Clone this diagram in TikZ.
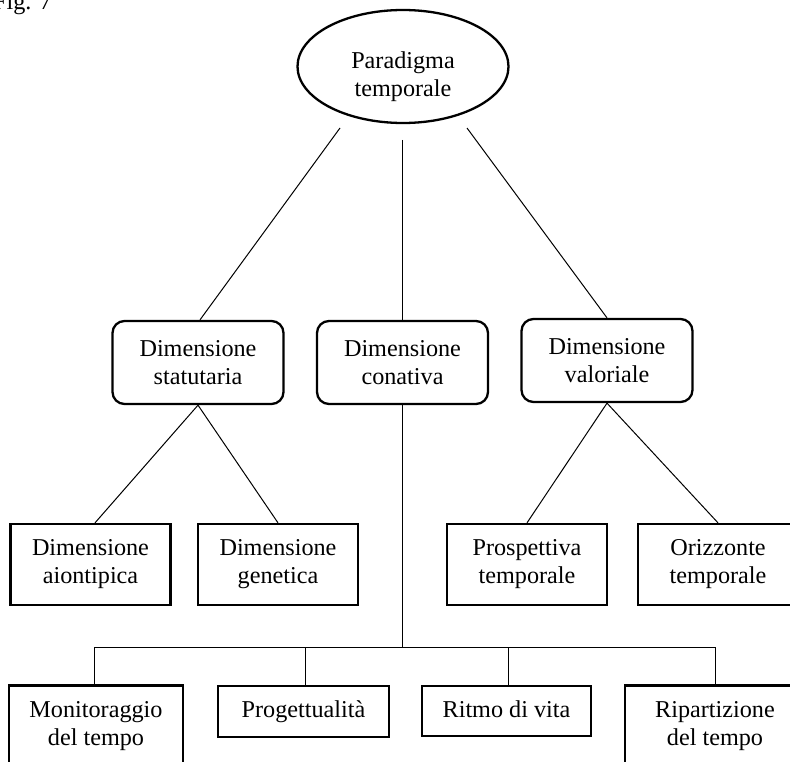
\documentclass[tikz,border=0pt]{standalone}
\usepackage{fontspec}
\setmainfont{Liberation Serif}
\usetikzlibrary{shapes.geometric}
\begin{document}
\begin{tikzpicture}[x=1pt,y=-1pt,
  every node/.style={font=\fontsize{24.2pt}{28pt}\selectfont, align=center, inner sep=0pt},
  rbox/.style={draw, line width=2.3pt, rounded corners=12pt, minimum width=171pt, minimum height=83pt},
  sbox/.style={draw, line width=2.3pt, minimum width=160pt, minimum height=81pt},
  onebox/.style={sbox, minimum height=51pt, text height=17pt, text depth=5pt},
  link/.style={line width=1pt}]
\useasboundingbox (0,0) rectangle (790,762);
\clip (0,0) rectangle (790,762);
\node[anchor=base west] (fig) at (-7,10) {Fig. 7};
\node[draw, ellipse, line width=2.3pt, minimum width=211pt, minimum height=113pt] (par) at (403,66.5) {};
\node (partext) at (403,77) {Paradigma\\temporale};
\node[rbox] (stat) at (198,362.5) {Dimensione\\statutaria};
\node[rbox] (con) at (402.5,362.5) {Dimensione\\conativa};
\node[rbox] (val) at (607,360.5) {Dimensione\\valoriale};
\node[sbox] (aio) at (90.5,564.5) {Dimensione\\aiontipica};
\node[sbox] (gen) at (278,564.5) {Dimensione\\genetica};
\node[sbox] (pros) at (527,564.5) {Prospettiva\\temporale};
\node[sbox] (ori) at (718,564.5) {Orizzonte\\temporale};
\node[sbox, minimum width=174pt] (mon) at (96,726) {Monitoraggio\\del tempo};
\node[onebox, minimum width=171pt] (prog) at (303.5,711.5) {Progettualità};
\node[onebox, minimum width=169pt, minimum height=50pt] (rit) at (506.5,711) {Ritmo di vita};
\node[sbox, minimum width=180pt] (rip) at (715,726) {Ripartizione\\del tempo};
\coordinate (e1) at (340,128);
\coordinate (e2) at (402.5,140);
\coordinate (e3) at (467,128);
\coordinate (bus) at (0,647);
\draw[link] (e1) -- ([xshift=2pt]stat.north);
\draw[link] (e2) -- (con.north);
\draw[link] (e3) -- (val.north);
\draw[link] (stat.south) -- ([xshift=4.5pt]aio.north);
\draw[link] (stat.south) -- (gen.north);
\draw[link] (val.south) -- (pros.north);
\draw[link] (val.south) -- (ori.north);
\draw[link] (con.south) -- (con.south |- bus);
\draw[link] ([xshift=-2pt]mon.north) -- ([xshift=-2pt]mon.north |- bus) -- (rip.north |- bus) -- (rip.north);
\draw[link] ([xshift=1.5pt]prog.north) -- ([xshift=1.5pt]prog.north |- bus);
\draw[link] ([xshift=1.5pt]rit.north) -- ([xshift=1.5pt]rit.north |- bus);
\end{tikzpicture}
\end{document}
